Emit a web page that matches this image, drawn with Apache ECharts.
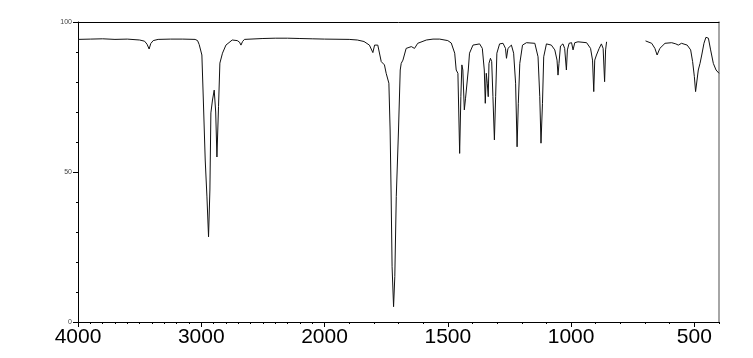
<!DOCTYPE html>
<html>
<head>
<meta charset="utf-8">
<script src="https://cdn.jsdelivr.net/npm/echarts@6/dist/echarts.min.js"></script>
<style>
html,body{margin:0;padding:0;background:#fff;}
#chart{width:753px;height:358px;}
</style>
</head>
<body>
<div id="chart"></div>
<script>
// Wavenumber (cm-1) and % transmittance
const wavenumber = [
4000,3900,3800,3700,3600,3500,3460,3440,3423,3410,3390,3350,3250,3150,3050,3030,3017,
2995,2984,2968,2954,2941,2930,2922,2909,2895,2883,2873,2860,2849,2828,2800,2749,2708,
2690,2678,2665,2650,2500,2400,2300,2200,2100,2000,1900,1867,1840,1818,1804,1797,1784,
1770,1757,1750,1739,1734,1730,1726,1720,1715,1709,1700,1693,1689,1682,1669,1648,1635,
1622,1587,1560,1533,1500,1486,1472,1466,1459,1452,1447,1443,1439,1433,1428,1422,1417,
1412,1398,1371,1360,1352,1348,1344,1340,1336,1333,1327,1322,1317,1311,1306,1301,1290,
1276,1266,1262,1256,1242,1233,1225,1219,1214,1208,1197,1181,1147,1134,1127,1122,1116,
1111,1100,1080,1066,1057,1053,1049,1043,1033,1026,1019,1015,1008,998,992,985,972,937,
921,913,908,904,897,886,877,870,864,860,856,
780,
698,673,660,651,640,619,592,575,565,552,529,515,507,500,495,489,484,477,470,461,453,
443,434,423,412,400
];
const transmittance = [
94.2,94.3,94.4,94.2,94.3,94.0,93.6,92.6,91.0,92.8,93.8,94.2,94.3,94.3,94.2,93.8,92.5,
89.0,75.0,54.0,41.7,28.4,44.0,69.7,74.0,77.3,70.0,55.0,71.8,86.3,89.6,92.3,94.0,93.8,
93.3,92.3,93.5,94.2,94.5,94.6,94.6,94.5,94.4,94.3,94.2,94.0,93.5,92.3,89.8,92.3,92.3,
86.8,85.7,82.9,79.6,64.0,43.0,18.4,5.1,15.1,41.8,64.0,84.0,86.2,87.3,91.2,91.8,91.2,
92.9,94.0,94.3,94.3,93.8,93.0,89.6,84.0,82.9,56.2,75.1,85.7,84.0,70.7,74.6,74.0,84.0,
89.6,92.3,92.7,91.2,84.0,72.9,82.9,79.6,75.1,86.2,87.9,86.8,75.1,60.7,75.1,89.6,92.7,
92.9,91.2,87.9,91.2,92.3,89.6,79.6,58.4,72.9,86.2,92.3,93.1,92.9,88.4,75.1,59.6,72.9,
88.4,92.7,92.3,90.7,87.3,82.3,86.2,92.0,92.7,91.2,84.0,90.7,92.9,93.1,90.7,93.1,93.4,93.1,
91.2,87.3,76.8,87.3,89.0,91.2,92.7,91.2,80.1,90.7,93.4,
null,
93.7,92.9,91.2,89.0,91.2,92.9,93.1,92.7,92.3,92.9,92.3,90.7,86.8,81.8,76.8,76.4,84.0,86.2,89.0,92.9,94.9,
94.6,90.7,86.2,84.0,82.9
];
const xTickLabels = [4000, 3000, 2000, 1500, 1000, 500];
const yTickLabels = [0, 50, 100];

// The instrument chart uses a 2x expanded scale below 2000 cm-1
function toU(w) { return w >= 2000 ? 4000 - w : 2000 + 2 * (2000 - w); }
function fromU(u) { return u <= 2000 ? 4000 - u : 2000 - (u - 2000) / 2; }

const minorTickWn = [];
for (let w = 4000; w >= 400; w -= 100) minorTickWn.push(w);

const seriesData = wavenumber.map((w, i) =>
  [toU(w), transmittance[i] === null ? '-' : transmittance[i]]);

const chart = echarts.init(document.getElementById('chart'), null, {renderer: 'canvas'});
const FONT = '"Liberation Sans", Arial, sans-serif';
chart.setOption({
  animation: false,
  backgroundColor: '#fff',
  grid: {left: 78, right: 34, top: 22, bottom: 36, containLabel: false},
  xAxis: [
    {
      type: 'value', min: toU(4000), max: toU(400), position: 'bottom',
      axisLine: {show: true, onZero: false, lineStyle: {color: '#000', width: 1}},
      axisTick: {show: true, length: 5, customValues: xTickLabels.map(toU), lineStyle: {color: '#000'}},
      axisLabel: {show: true, customValues: xTickLabels.map(toU), formatter: v => String(Math.round(fromU(v))),
        fontSize: 21, fontFamily: FONT, color: '#000', margin: 5},
      splitLine: {show: false}
    },
    {
      type: 'value', min: toU(4000), max: toU(400), position: 'bottom',
      axisLine: {show: false, onZero: false},
      axisTick: {show: true, length: 2, customValues: minorTickWn.map(toU), lineStyle: {color: '#000'}},
      axisLabel: {show: false},
      splitLine: {show: false}
    },
    {
      type: 'value', min: toU(4000), max: toU(400), position: 'top',
      axisLine: {show: true, onZero: false, lineStyle: {color: '#000', width: 1}},
      axisTick: {show: false}, axisLabel: {show: false}, splitLine: {show: false}
    }
  ],
  yAxis: [
    {
      type: 'value', min: 0, max: 100, interval: 50, position: 'left',
      axisLine: {show: true, onZero: false, lineStyle: {color: '#000', width: 1}},
      axisTick: {show: true, length: 5, lineStyle: {color: '#000'}},
      minorTick: {show: true, splitNumber: 5, length: 2, lineStyle: {color: '#000'}},
      axisLabel: {show: true, fontSize: 7, fontFamily: FONT, color: '#444', margin: 6,
        formatter: v => yTickLabels.includes(v) ? String(v) : ''},
      splitLine: {show: false}
    },
    {
      type: 'value', min: 0, max: 100, position: 'right',
      axisLine: {show: true, onZero: false, lineStyle: {color: '#888', width: 1.5}},
      axisTick: {show: false}, axisLabel: {show: false}, splitLine: {show: false}
    }
  ],
  series: [{
    type: 'line', xAxisIndex: 0, yAxisIndex: 0,
    data: seriesData, showSymbol: false, symbol: 'none', connectNulls: false,
    lineStyle: {color: '#111', width: 1}
  }]
});
</script>
</body>
</html>
